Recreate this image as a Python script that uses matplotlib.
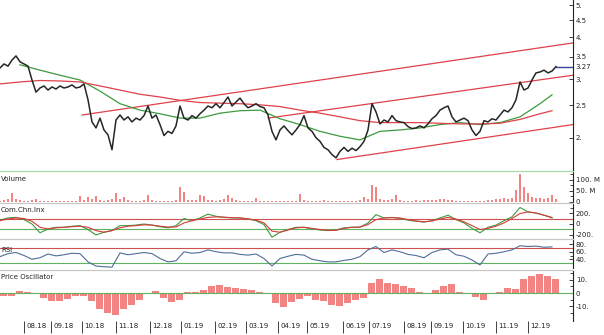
import numpy as np
import matplotlib
matplotlib.use("Agg")
import matplotlib.pyplot as plt
from matplotlib.ticker import FixedLocator, FixedFormatter, NullLocator
from matplotlib.transforms import ScaledTranslation, blended_transform_factory
from matplotlib.lines import Line2D

# ---------------- data (x = sample index, one sample ~ 2.7 trading days) ----------------
close = [3.24, 3.33, 3.28, 3.42, 3.52, 3.38, 3.33, 3.28, 2.98, 2.74,
         2.82, 2.86, 2.78, 2.84, 2.80, 2.86, 2.82, 2.84, 2.88, 2.82,
         2.84, 2.90, 2.60, 2.23, 2.14, 2.29, 2.11, 2.04, 1.84, 2.26,
         2.34, 2.26, 2.31, 2.23, 2.29, 2.26, 2.33, 2.49, 2.29, 2.34,
         2.19, 2.03, 2.09, 2.06, 2.17, 2.49, 2.29, 2.26, 2.33, 2.29,
         2.36, 2.42, 2.49, 2.46, 2.53, 2.46, 2.55, 2.65, 2.49, 2.56,
         2.63, 2.53, 2.46, 2.49, 2.53, 2.48, 2.46, 2.34, 2.09, 1.97,
         2.11, 2.17, 2.10, 2.04, 2.11, 2.19, 2.33, 2.14, 2.09, 2.00,
         1.95, 1.87, 1.84, 1.78, 1.74, 1.82, 1.87, 1.82, 1.86, 1.83,
         1.88, 1.95, 2.11, 2.53, 2.39, 2.20, 2.26, 2.23, 2.33, 2.25,
         2.23, 2.22, 2.16, 2.13, 2.14, 2.17, 2.14, 2.20, 2.28, 2.33,
         2.42, 2.46, 2.49, 2.31, 2.23, 2.26, 2.29, 2.25, 2.11, 2.03,
         2.09, 2.25, 2.23, 2.28, 2.26, 2.34, 2.42, 2.39, 2.46, 2.60,
         2.94, 2.78, 2.82, 2.98, 3.13, 3.15, 3.19, 3.13, 3.17, 3.27]

ma_short_idx = list(range(5, 136, 5)) + [138]
ma_short = [3.31, 3.19, 3.08, 2.98, 2.76, 2.53, 2.42, 2.36, 2.29, 2.29,
            2.37, 2.41, 2.42, 2.28, 2.19, 2.09, 2.02, 1.97, 2.09, 2.11,
            2.14, 2.19, 2.22, 2.19, 2.22, 2.31, 2.53, 2.69]

ma_long_idx = list(range(0, 136, 5)) + [138]
ma_long = [2.90, 2.94, 2.97, 2.96, 2.94, 2.86, 2.78, 2.70, 2.65, 2.59,
           2.55, 2.54, 2.53, 2.51, 2.48, 2.42, 2.37, 2.31, 2.25, 2.22,
           2.22, 2.22, 2.21, 2.20, 2.20, 2.21, 2.27, 2.36, 2.41]

trend_start_idx = [20.5, 67.0, 84.25]
trend_start_val = [2.34, 2.29, 1.72]
trend_end_val = [3.85, 3.08, 2.19]
last_price = 3.27

volume_m = [5, 8, 12, 40, 15, 8, 5, 6, 10, 12,
            6, 5, 4, 6, 5, 4, 5, 4, 6, 5,
            27, 8, 22, 12, 27, 8, 6, 8, 15, 40,
            12, 22, 8, 6, 5, 6, 10, 31, 8, 5,
            5, 4, 5, 6, 10, 68, 45, 10, 8, 10,
            31, 25, 10, 8, 6, 8, 12, 31, 20, 8,
            6, 5, 6, 5, 18, 6, 4, 5, 6, 4,
            5, 4, 5, 4, 6, 36, 8, 4, 5, 4,
            5, 10, 6, 4, 5, 4, 5, 4, 5, 6,
            8, 22, 12, 77, 70, 15, 8, 10, 12, 31,
            10, 6, 5, 6, 8, 6, 8, 10, 8, 10,
            14, 12, 10, 8, 6, 5, 4, 5, 4, 5,
            4, 6, 8, 10, 15, 12, 18, 15, 20, 54,
            126, 68, 40, 22, 18, 20, 15, 18, 31, 12]

cci_raw = [70, 110, 120, 80, 0, -160, -90, -60, -60, -40,
           -30, -100, -200, -150, -120, -30, -30, -20, 0, -20,
           -50, -70, -30, 100, 60, 110, 180, 140, 120, 110,
           110, 90, 60, -10, -240, -150, -100, -60, -60, -90,
           -110, -120, -110, -70, -60, -60, 20, 170, 110, 120,
           100, 70, 50, 35, 60, 110, 160, 80, 20, -80,
           -160, -60, -20, 60, 130, 300, 220, 200, 160, 110]
cci_signal = [60, 90, 110, 100, 50, -60, -90, -70, -60, -50,
              -40, -60, -120, -150, -120, -70, -40, -30, -15, -20,
              -40, -55, -55, 20, 60, 90, 120, 130, 125, 115,
              110, 95, 70, 20, -130, -150, -110, -70, -60, -80,
              -100, -115, -115, -80, -60, -55, -10, 80, 110, 115,
              110, 80, 55, 40, 55, 90, 120, 90, 40, -30,
              -100, -80, -40, 20, 100, 190, 220, 200, 160, 120]

rsi = [47, 55, 58, 50, 40, 44, 54, 49, 52, 56,
       55, 33, 22, 20, 19, 57, 52, 55, 58, 55,
       42, 33, 36, 60, 56, 58, 65, 60, 57, 57,
       53, 51, 54, 42, 22, 42, 48, 53, 51, 40,
       36, 33, 33, 37, 40, 47, 65, 74, 58, 65,
       60, 53, 50, 44, 58, 65, 67, 52, 48, 38,
       25, 54, 56, 60, 65, 76, 74, 75, 72, 73]

price_osc = [-2, -2, 1.3, 1, -1, -4, -6.4, -6, -4.5, -2.5,
             -2, -6, -12, -15, -17, -12, -9, -5, -1, 1.8,
             -4, -7, -5, 0.5, 0.5, 2, 5.6, 6, 4.8, 4,
             3, 2, 1, -1, -8, -11, -7, -4.6, -2.6, -5,
             -6, -9, -10, -7.5, -5, -3.5, 8, 11, 7.5, 7,
             5, 3.5, 1, -0.8, 2.5, 5.6, 7, 1, 0, -3,
             -5.6, -1, 0.5, 3.8, 3, 11, 12.8, 14.5, 13.3, 11]

month_pos = [6.0, 12.75, 20.5, 29.0, 37.5, 45.25, 53.75, 61.5, 69.5,
             76.75, 85.75, 92.25, 101.0, 107.75, 115.75, 124.0, 132.0]
month_labels = ['08.18', '09.18', '10.18', '11.18', '12.18', '01.19', '02.19',
                '03.19', '04.19', '05.19', '06.19', '07.19', '08.19', '09.19',
                '10.19', '11.19', '12.19']

price_ticks = [2, 2.5, 3, 3.5, 4, 4.5, 5]
price_tick_labels = ['2.', '2.5', '3.', '3.5', '4.', '4.5', '5.']
vol_ticks = [0, 50, 100]
vol_tick_labels = ['0', '50. M', '100. M']
cci_ticks = [-200, 0, 200]
cci_tick_labels = ['-200.', '0', '200.']
rsi_ticks = [40, 60, 80]
rsi_tick_labels = ['40.', '60.', '80.']
osc_ticks = [-10, 0, 10]
osc_tick_labels = ['-10.', '0', '10.']

# ---------------- style ----------------
plt.rcParams['font.family'] = ['DejaVu Sans']
C_PRICE = '#262626'
C_GREEN = '#3d9a3d'
C_RED = '#e0404a'
C_BAR = '#f28484'
C_RSI = '#4f6d98'
C_SEP = '#c8c8c8'
FS = 5

W, H = 604, 335
XR = 573.0 / 4.0
fig = plt.figure(figsize=(W / 100, H / 100), dpi=100)


def box(top, bottom):
    return [0, 1 - bottom / H, 573 / W, (bottom - top) / H]


def style(ax, ticks, labels, minor=None):
    for s in ('top', 'left', 'bottom'):
        ax.spines[s].set_visible(False)
    ax.spines['right'].set_linewidth(0.8)
    ax.spines['right'].set_color('#222222')
    ax.set_xlim(0, XR)
    ax.set_xticks([])
    ax.yaxis.tick_right()
    ax.yaxis.set_major_locator(FixedLocator(ticks))
    ax.yaxis.set_major_formatter(FixedFormatter(labels))
    if minor is not None:
        ax.yaxis.set_minor_locator(FixedLocator(minor))
    else:
        ax.yaxis.set_minor_locator(NullLocator())
    ax.tick_params(axis='y', which='major', direction='in', length=3,
                   width=0.6, labelsize=FS, pad=2, colors='#222222')
    ax.tick_params(axis='y', which='minor', direction='in', length=2,
                   width=0.5)
    ax.set_facecolor('none')


# ---- price panel ----
axp = fig.add_axes(box(0, 170))
axp.set_yscale('log')
axp.set_ylim(1.60, 5.18)
style(axp, price_ticks, price_tick_labels)
axp.yaxis.set_minor_formatter(FixedFormatter([]))
x = np.arange(len(close))
axp.plot(x, close, color=C_PRICE, lw=1.1, zorder=4)
axp.plot(ma_short_idx, ma_short, color=C_GREEN, lw=0.9, zorder=3)
axp.plot(ma_long_idx, ma_long, color=C_RED, lw=0.9, zorder=3)
for xs, v0, v1 in zip(trend_start_idx, trend_start_val, trend_end_val):
    axp.plot([xs, XR], [v0, v1], color=C_RED, lw=0.9, zorder=2)
axp.plot([len(close) - 1, XR], [last_price, last_price], color='#34469a', lw=1.0, zorder=5)
tr = blended_transform_factory(axp.transAxes, axp.transData)
axp.text(1.0, last_price, '%.2f' % last_price, transform=tr, fontsize=FS,
         va='center', ha='left', color='#222222',
         bbox=dict(boxstyle='square,pad=0.1', fc='white', ec='none')).set_transform(
    tr + ScaledTranslation(2 / 72, 0, fig.dpi_scale_trans))

# ---- volume ----
axv = fig.add_axes(box(172, 202))
axv.bar(np.arange(len(volume_m)), volume_m, width=0.5, color=C_BAR, linewidth=0)
axv.set_ylim(0, 136)
style(axv, vol_ticks, vol_tick_labels, minor=[25, 75, 125])

# ---- CCI ----
axc = fig.add_axes(box(204, 238))
xc = np.arange(0, 2 * len(cci_raw), 2)
axc.axhline(100, color='#d05050', lw=0.8)
axc.axhline(-100, color='#5fb55f', lw=0.8)
axc.plot(xc, cci_raw, color=C_GREEN, lw=0.8)
axc.plot(xc, cci_signal, color='#d83a3a', lw=0.8)
axc.set_ylim(-255, 364)
style(axc, cci_ticks, cci_tick_labels, minor=[-100, 100, 300])

# ---- RSI ----
axr = fig.add_axes(box(239, 268))
xr = np.arange(0, 2 * len(rsi), 2)
axr.axhline(70, color='#d05050', lw=0.8)
axr.axhline(30, color='#5fb55f', lw=0.8)
axr.plot(xr, rsi, color=C_RSI, lw=0.8)
axr.set_ylim(16.7, 94)
style(axr, rsi_ticks, rsi_tick_labels, minor=[50, 70])

# ---- price oscillator ----
axo = fig.add_axes(box(271, 321))
xo = np.arange(0, 2 * len(price_osc), 2)
axo.bar(xo, price_osc, width=1.75, align='edge', color=C_BAR, linewidth=0)
axo.axhline(0, color='#5fb55f', lw=0.8)
axo.set_ylim(-21.5, 16.9)
style(axo, osc_ticks, osc_tick_labels, minor=[-15, -5, 5, 15])
axo.set_xticks(month_pos)
axo.set_xticklabels(month_labels)
axo.tick_params(axis='x', direction='out', length=8.5, width=0.6,
                labelsize=FS, pad=-7, colors='#222222')
for lbl in axo.get_xticklabels():
    lbl.set_horizontalalignment('left')
    lbl.set_transform(lbl.get_transform() + ScaledTranslation(1.5 / 72, 0, fig.dpi_scale_trans))

# ---- separators ----
for yy, col in [(170.5, '#a8dca8'), (203, C_SEP), (238.5, C_SEP), (270, C_SEP)]:
    fig.add_artist(Line2D([0, 573 / W], [1 - yy / H, 1 - yy / H],
                          transform=fig.transFigure, color=col, lw=0.9))

# ---- panel titles ----
for txt, yy in [('Volume', 179), ('Com.Chn.Inx', 210.5), ('RSI', 250), ('Price Oscillator', 277)]:
    fig.text(1 / W, 1 - yy / H, txt, fontsize=FS, va='center', ha='left', color='#222222')

fig.savefig('out.png', dpi=100)
